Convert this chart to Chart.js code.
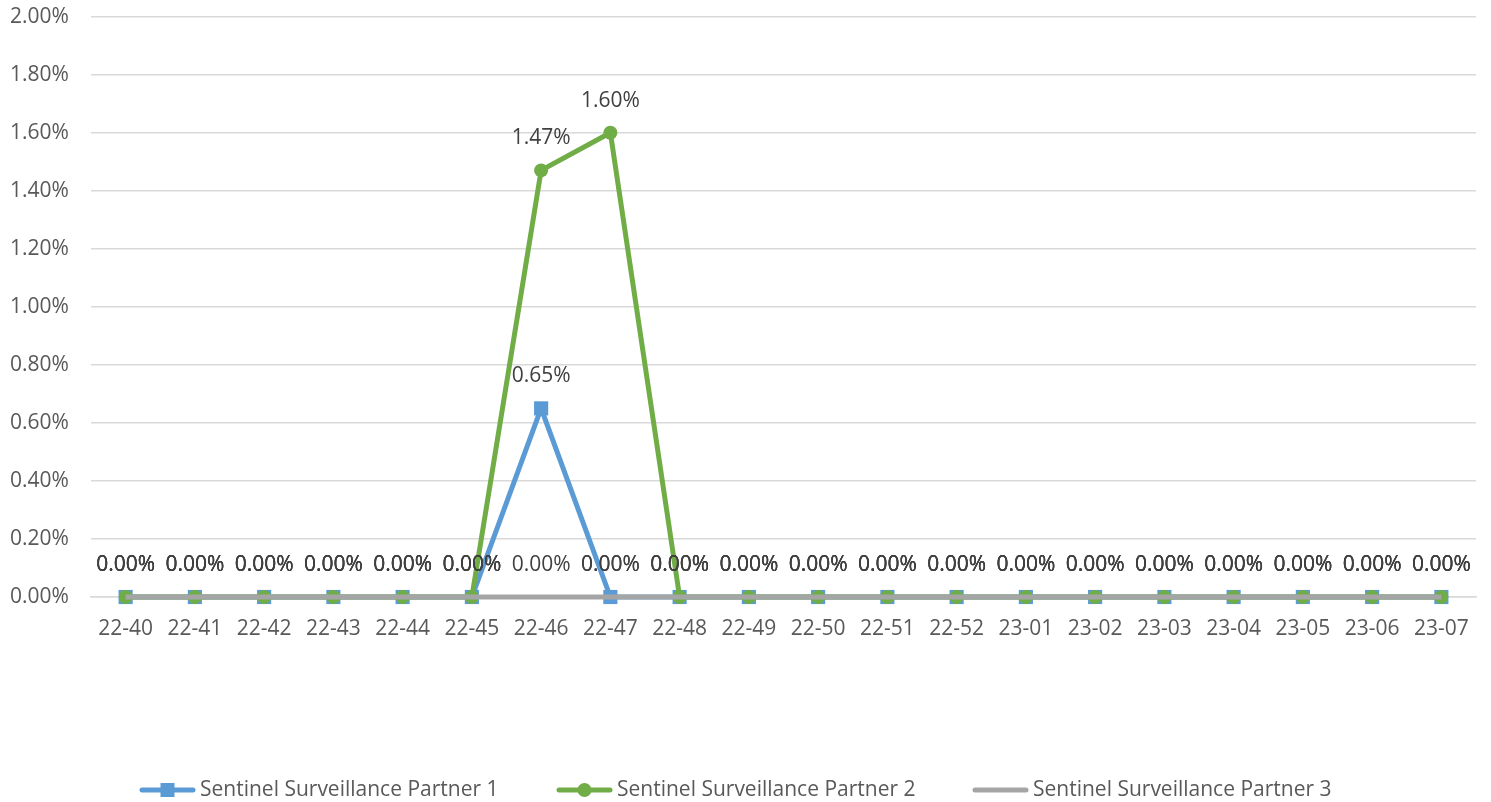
<!DOCTYPE html>
<html>
<head>
<meta charset="utf-8">
<script src="https://cdn.jsdelivr.net/npm/chart.js@4/dist/chart.umd.min.js"></script>
<style>
html,body{margin:0;padding:0;background:#fff;}
#wrap{position:relative;width:1491px;height:802px;}
</style>
</head>
<body>
<div id="wrap"><canvas id="c" width="1491" height="802"></canvas></div>
<script>
const categories = ["22-40","22-41","22-42","22-43","22-44","22-45","22-46","22-47","22-48","22-49","22-50","22-51","22-52","23-01","23-02","23-03","23-04","23-05","23-06","23-07"];
const partner1 = [0,0,0,0,0,0,0.65,0,0,0,0,0,0,0,0,0,0,0,0,0];
const partner2 = [0,0,0,0,0,0,1.47,1.60,0,0,0,0,0,0,0,0,0,0,0,0];
const partner3 = [0,0,0,0,0,0,0,0,0,0,0,0,0,0,0,0,0,0,0,0];
const seriesNames = ["Sentinel Surveillance Partner 1","Sentinel Surveillance Partner 2","Sentinel Surveillance Partner 3"];
const yMin = 0, yMax = 2.0, yStep = 0.2;

const FONT = "'Open Sans', 'Liberation Sans', sans-serif";
const fmt = v => Number(v).toFixed(2) + "%";

const labelPlugin = {
  id: 'pointLabels',
  afterDatasetsDraw(chart) {
    const ctx = chart.ctx;
    ctx.save();
    ctx.font = "21px " + FONT;
    ctx.fillStyle = "#404040";
    ctx.textAlign = "center";
    ctx.textBaseline = "middle";
    chart.data.datasets.forEach((ds, i) => {
      const meta = chart.getDatasetMeta(i);
      meta.data.forEach((pt, j) => {
        ctx.fillText(fmt(ds.data[j]), pt.x, pt.y - 32);
      });
    });
    ctx.restore();
  }
};

const legendPlugin = {
  id: 'lineLegend',
  afterDraw(chart) {
    const ctx = chart.ctx;
    const xs = [140, 557, 973];
    const y = 790;
    ctx.save();
    chart.data.datasets.forEach((ds, i) => {
      const x0 = xs[i];
      ctx.strokeStyle = ds.borderColor;
      ctx.lineWidth = 5;
      ctx.lineCap = "round";
      ctx.beginPath(); ctx.moveTo(x0 + 2, y); ctx.lineTo(x0 + 53, y); ctx.stroke();
      ctx.fillStyle = ds.borderColor;
      if (ds.pointStyle === 'rect') {
        ctx.fillRect(x0 + 27.5 - 7, y - 7, 14, 14);
      } else if (ds.pointRadius > 0) {
        ctx.beginPath(); ctx.arc(x0 + 27.5, y, 7, 0, Math.PI * 2); ctx.fill();
      }
      ctx.fillStyle = "#595959";
      ctx.font = "21px " + FONT;
      ctx.textAlign = "left";
      ctx.textBaseline = "middle";
      ctx.fillText(ds.label, x0 + 60, y);
    });
    ctx.restore();
  }
};

new Chart(document.getElementById('c'), {
  type: 'line',
  data: {
    labels: categories,
    datasets: [
      { label: seriesNames[0], data: partner1, borderColor: "#5B9BD5", backgroundColor: "#5B9BD5",
        borderWidth: 5, pointStyle: 'rect', pointRadius: 10, pointBorderWidth: 0, order: 3, tension: 0, clip: false },
      { label: seriesNames[1], data: partner2, borderColor: "#70AD47", backgroundColor: "#70AD47",
        borderWidth: 5, pointStyle: 'circle', pointRadius: 7, pointBorderWidth: 0, order: 2, tension: 0, clip: false },
      { label: seriesNames[2], data: partner3, borderColor: "#A5A5A5", backgroundColor: "#A5A5A5",
        borderWidth: 5, pointRadius: 0, order: 1, tension: 0, clip: false }
    ]
  },
  options: {
    responsive: false,
    animation: false,
    layout: { padding: { top: 1, right: 15, bottom: 145, left: 10 } },
    plugins: { legend: { display: false }, tooltip: { enabled: false } },
    scales: {
      x: {
        offset: true,
        grid: { display: false, drawTicks: false },
        border: { display: true, color: "#D9D9D9", width: 1.5 },
        ticks: { color: "#595959", font: { family: FONT, size: 21 }, padding: 19, maxRotation: 0, autoSkip: false },
        afterFit(s) { s.height = 60; }
      },
      y: {
        min: yMin, max: yMax,
        grid: { color: "#D9D9D9", lineWidth: 1.5, drawTicks: false },
        border: { display: false },
        ticks: { stepSize: yStep, color: "#595959", font: { family: FONT, size: 21 }, padding: 4,
                 crossAlign: 'far', callback: v => fmt(v) },
        afterFit(s) { s.width = 81; }
      }
    }
  },
  plugins: [labelPlugin, legendPlugin]
});
</script>
</body>
</html>
